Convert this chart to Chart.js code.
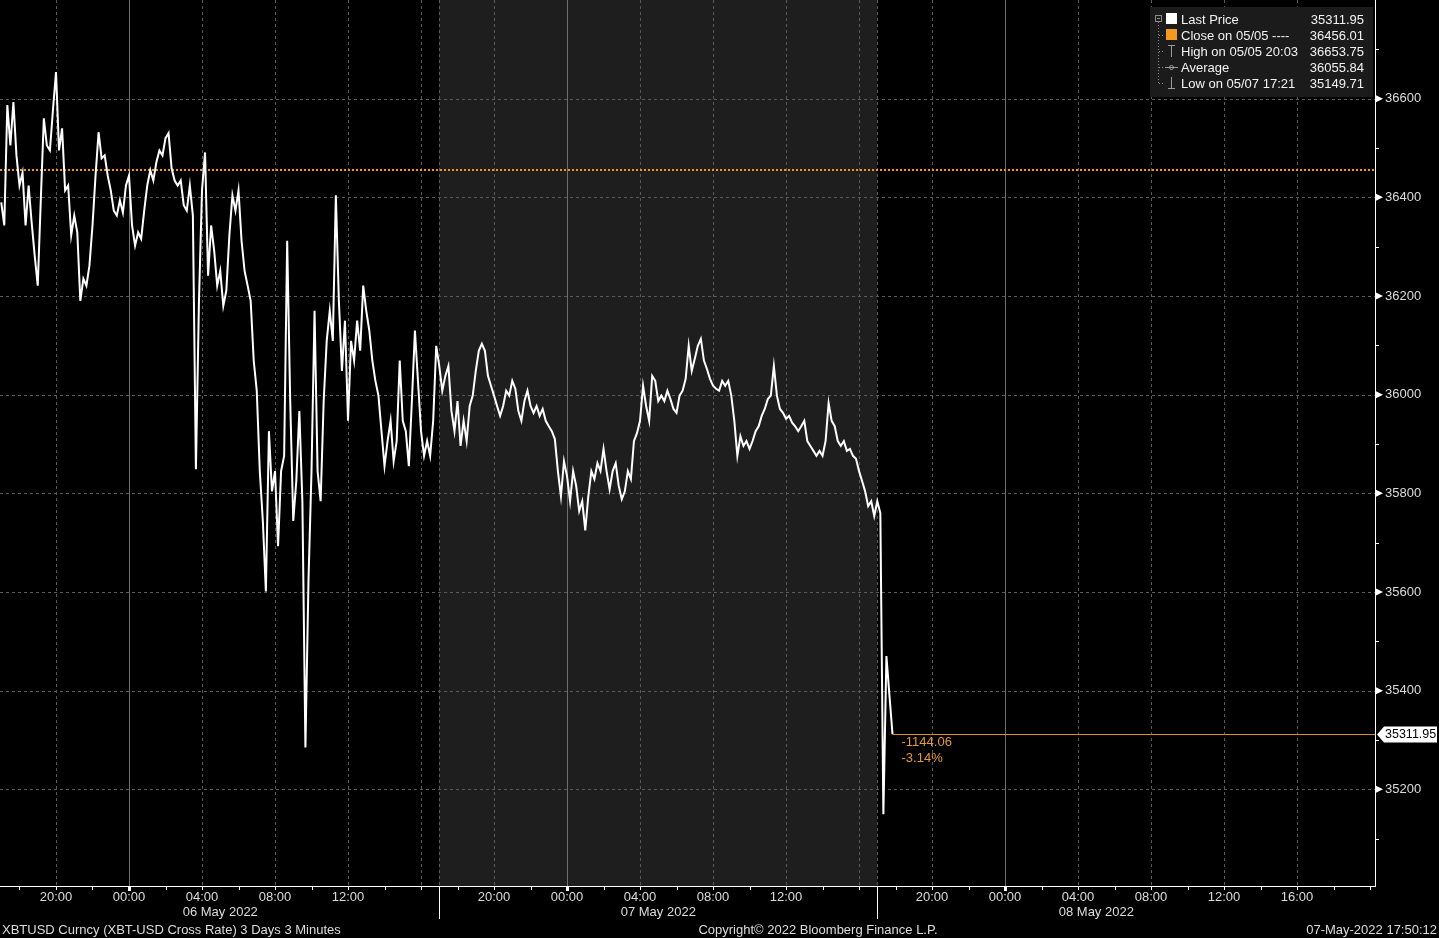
<!DOCTYPE html>
<html>
<head>
<meta charset="utf-8">
<title>XBTUSD 3 Days</title>
<script src="https://cdn.jsdelivr.net/npm/chart.js@4.4.0/dist/chart.umd.min.js"></script>
<style>
  html, body { margin: 0; padding: 0; background: #000; }
  canvas { display: block; }
</style>
</head>
<body>
<canvas id="chart" width="1439" height="938"></canvas>
<script>
// hours are counted from 06 May 2022 00:00, first bar is 05 May 17:00
const startHour = -7;
const stepMinutes = 10;

// XBTUSD, 10 minute samples
const prices = [
  36390, 36343, 36587, 36505, 36593, 36485, 36424, 36450, 36343, 36424, 36349, 36282,
  36221, 36394, 36560, 36505, 36495, 36577, 36653.75, 36495, 36540, 36414, 36424, 36323,
  36363, 36329, 36190, 36235, 36221, 36262, 36343, 36444, 36532, 36479, 36485, 36444,
  36414, 36373, 36363, 36394, 36369, 36424, 36444, 36343, 36302, 36329, 36316, 36373,
  36424, 36455, 36434, 36471, 36495, 36485, 36520, 36530, 36459, 36434, 36424, 36434,
  36384, 36373, 36424, 36363, 35849, 36190, 36414, 36491, 36241, 36343, 36292, 36221,
  36251, 36180, 36211, 36323, 36404, 36373, 36414, 36312, 36251, 36221, 36190, 36069,
  36008, 35845, 35744, 35601, 35926, 35804, 35845, 35693, 35845, 35876, 36312, 35987,
  35744, 35825, 35967, 35784, 35285, 35622, 35845, 36170, 35845, 35784, 35987, 36109,
  36170, 36109, 36404, 36190, 36048, 36150, 35947, 36109, 36069, 36150, 36089, 36221,
  36170, 36130, 36069, 36028, 35998, 35926, 35855, 35906, 35947, 35865, 35906, 36069,
  35947, 35926, 35855, 35987, 36130, 36028, 35926, 35876, 35906, 35876, 35947, 36099,
  36058, 36008, 36038, 36058, 35967, 35926, 35987, 35896, 35947, 35906, 35977, 35998,
  36048, 36089, 36103, 36089, 36038, 36018, 35998, 35977, 35957, 35977, 36008, 35998,
  36028, 36012, 35967, 35947, 35987, 36008, 35977, 35963, 35977, 35957, 35971, 35947,
  35936, 35926, 35910, 35845, 35794, 35865, 35835, 35784, 35845, 35815, 35764, 35784,
  35725, 35794, 35845, 35829, 35861, 35845, 35890, 35845, 35808, 35845, 35861, 35815,
  35788, 35804, 35845, 35829, 35906, 35922, 35947, 36018, 35977, 35947, 36038, 36028,
  35987, 35998, 35987, 36008, 35991, 35971, 35963, 35998, 36008, 36032, 36099, 36048,
  36073, 36099, 36113, 36069, 36052, 36032, 36018, 36012, 36008, 36028, 36018, 36028,
  35998, 35947, 35876, 35916, 35896, 35906, 35890, 35906, 35926, 35936, 35957, 35971,
  35991, 35998, 36058, 35998, 35971, 35963, 35951, 35957, 35943, 35936, 35926, 35936,
  35947, 35906, 35896, 35886, 35876, 35886, 35876, 35906, 35983, 35947, 35936, 35906,
  35896, 35906, 35886, 35890, 35876, 35870, 35845, 35825, 35804, 35774, 35784, 35754,
  35784, 35760, 35149.71, 35470, 35390, 35311.95
];

const closePrev = 36456.01;
const lastPrice = 35311.95;
const netChange = '-1144.06';
const pctChange = '-3.14%';

const yTicks = [35200, 35400, 35600, 35800, 36000, 36200, 36400, 36600];
const yMinor = [35100, 35300, 35500, 35700, 35900, 36100, 36300, 36500, 36700];
const xLabelHours = [-4, 0, 4, 8, 12, 20, 24, 28, 32, 36, 44, 48, 52, 56, 60, 64];
const xGridHours = [-4, 0, 4, 8, 12, 16, 20, 24, 28, 32, 36, 40, 44, 48, 52, 56, 60, 64];
const sessionBreaks = [17, 41];
const dayLabels = ['06 May 2022', '07 May 2022', '08 May 2022'];
const dayCenters = [5, 29, 53];

const legendNames = ['Last Price', 'Close on 05/05 ----', 'High on 05/05 20:03', 'Average', 'Low on 05/07 17:21'];
const legendValues = ['35311.95', '36456.01', '36653.75', '36055.84', '35149.71'];

const FONT = "'Liberation Sans', Arial, sans-serif";
const ORANGE = '#f0962a';

const line = (ctx, x1, y1, x2, y2) => {
  ctx.beginPath();
  ctx.moveTo(x1, y1);
  ctx.lineTo(x2, y2);
  ctx.stroke();
};

const bbg = {
  id: 'bbg',
  beforeDraw(chart) {
    const { ctx, chartArea: a, scales: { x, y } } = chart;
    ctx.save();
    ctx.fillStyle = '#000';
    ctx.fillRect(0, 0, chart.width, chart.height);

    // 07 May session shading
    const s0 = x.getPixelForValue(sessionBreaks[0]);
    const s1 = x.getPixelForValue(sessionBreaks[1]);
    ctx.fillStyle = '#1e1e1e';
    ctx.fillRect(s0, a.top, s1 - s0, a.bottom - a.top);

    ctx.lineWidth = 1;
    ctx.strokeStyle = '#5a5a5a';
    ctx.setLineDash([3, 3]);
    yTicks.forEach(v => {
      const py = Math.round(y.getPixelForValue(v)) + 0.5;
      line(ctx, a.left, py, a.right, py);
    });
    xGridHours.forEach(h => {
      if (h % 24 === 0) return;
      const px = Math.round(x.getPixelForValue(h)) + 0.5;
      line(ctx, px, a.top, px, a.bottom);
    });
    sessionBreaks.forEach(h => {
      const px = Math.round(x.getPixelForValue(h)) + 0.5;
      line(ctx, px, a.top, px, a.bottom);
    });
    ctx.setLineDash([]);
    ctx.strokeStyle = '#6e6e6e';
    xGridHours.forEach(h => {
      if (h % 24 !== 0) return;
      const px = Math.round(x.getPixelForValue(h)) + 0.5;
      line(ctx, px, a.top, px, a.bottom);
    });

    // previous close
    ctx.strokeStyle = ORANGE;
    ctx.lineWidth = 2;
    ctx.setLineDash([2, 2]);
    const cy = Math.round(y.getPixelForValue(closePrev));
    line(ctx, a.left, cy, a.right, cy);
    ctx.restore();
  },
  afterDatasetsDraw(chart) {
    const { ctx, chartArea: a, scales: { x, y } } = chart;
    ctx.save();

    // last price line
    const lastX = x.getPixelForValue(startHour + (prices.length - 1) * stepMinutes / 60);
    const ly = Math.round(y.getPixelForValue(lastPrice)) + 0.5;
    ctx.strokeStyle = '#e08a2c';
    ctx.lineWidth = 1;
    line(ctx, lastX, ly, a.right, ly);
    ctx.fillStyle = '#e39a3a';
    ctx.font = '13px ' + FONT;
    ctx.textBaseline = 'middle';
    ctx.textAlign = 'left';
    ctx.fillText(netChange, lastX + 9, ly + 8);
    ctx.fillText(pctChange, lastX + 9, ly + 24);

    // axis frame
    ctx.strokeStyle = '#ffffff';
    line(ctx, a.right + 0.5, a.top, a.right + 0.5, a.bottom + 1);
    line(ctx, a.left, a.bottom + 0.5, a.right + 1, a.bottom + 0.5);

    // y markers
    ctx.fillStyle = '#ffffff';
    yTicks.forEach(v => {
      const py = y.getPixelForValue(v);
      ctx.beginPath();
      ctx.moveTo(a.right + 1, py - 3.5);
      ctx.lineTo(a.right + 8, py);
      ctx.lineTo(a.right + 1, py + 3.5);
      ctx.closePath();
      ctx.fill();
    });
    yMinor.forEach(v => {
      const py = Math.round(y.getPixelForValue(v)) + 0.5;
      line(ctx, a.right + 1, py, a.right + 4, py);
    });

    // last price tag
    const tx = a.right + 2;
    ctx.beginPath();
    ctx.moveTo(tx, ly);
    ctx.lineTo(tx + 7, ly - 8);
    ctx.lineTo(chart.width - 2, ly - 8);
    ctx.lineTo(chart.width - 2, ly + 8);
    ctx.lineTo(tx + 7, ly + 8);
    ctx.closePath();
    ctx.fill();
    ctx.fillStyle = '#000';
    ctx.font = '12.5px ' + FONT;
    ctx.fillText(lastPrice.toFixed(2), tx + 8, ly + 0.5);

    // x ticks every 2 hours
    for (let h = -6; h <= 68; h += 2) {
      const px = Math.round(x.getPixelForValue(h)) + 0.5;
      if (h % 24 === 0) {
        ctx.lineWidth = 3;
        line(ctx, px, a.bottom, px, a.bottom + 5);
        ctx.lineWidth = 1;
      } else {
        line(ctx, px, a.bottom, px, a.bottom + 4);
      }
    }
    sessionBreaks.forEach(h => {
      const px = Math.round(x.getPixelForValue(h)) + 0.5;
      line(ctx, px, a.bottom, px, a.bottom + 33);
    });

    // day labels and footer
    ctx.fillStyle = '#dcdcdc';
    ctx.font = '13px ' + FONT;
    ctx.textAlign = 'center';
    dayLabels.forEach((t, i) => ctx.fillText(t, x.getPixelForValue(dayCenters[i]), a.bottom + 26));
    ctx.fillText('Copyright\u00a9 2022 Bloomberg Finance L.P.', 818, chart.height - 8);
    ctx.textAlign = 'left';
    ctx.fillText('XBTUSD Curncy (XBT-USD Cross Rate) 3 Days 3 Minutes', 2, chart.height - 8);
    ctx.textAlign = 'right';
    ctx.fillText('07-May-2022 17:50:12', chart.width - 2, chart.height - 8);

    // legend
    ctx.fillStyle = '#1b1b1b';
    ctx.fillRect(1150, 7, 223, 90);
    const rows = [19, 35, 51, 67, 83];
    ctx.strokeStyle = '#8a8a8a';
    ctx.strokeRect(1155.5, 15.5, 6, 6);
    line(ctx, 1157, 18.5, 1160, 18.5);
    ctx.setLineDash([1, 2]);
    line(ctx, 1158.5, 22, 1158.5, rows[4]);
    rows.slice(1).forEach(r => line(ctx, 1159, r + 0.5, 1164, r + 0.5));
    ctx.setLineDash([]);
    ctx.fillStyle = '#ffffff';
    ctx.fillRect(1166, 13, 11, 11);
    ctx.fillStyle = '#f39a1e';
    ctx.fillRect(1166, 29, 11, 11);
    ctx.strokeStyle = '#9a9a9a';
    line(ctx, 1171.5, rows[2] - 6, 1171.5, rows[2] + 6);
    line(ctx, 1168, rows[2] - 5.5, 1175, rows[2] - 5.5);
    line(ctx, 1165, rows[3] + 0.5, 1178, rows[3] + 0.5);
    ctx.beginPath();
    ctx.arc(1171.5, rows[3] + 0.5, 2, 0, Math.PI * 2);
    ctx.stroke();
    line(ctx, 1171.5, rows[4] - 6, 1171.5, rows[4] + 6);
    line(ctx, 1168, rows[4] + 5.5, 1175, rows[4] + 5.5);
    ctx.fillStyle = '#f2f2f2';
    ctx.font = '13px ' + FONT;
    rows.forEach((r, i) => {
      ctx.textAlign = 'left';
      ctx.fillText(legendNames[i], 1181, r + 1);
      ctx.textAlign = 'right';
      ctx.fillText(legendValues[i], 1364, r + 1);
    });
    ctx.restore();
  }
};

const noPad = s => {
  s.paddingTop = 0;
  s.paddingBottom = 0;
  s.paddingLeft = 0;
  s.paddingRight = 0;
};

const ctx = document.getElementById('chart').getContext('2d');
const chart = new Chart(ctx, {
  type: 'line',
  data: {
    datasets: [{
      label: 'Last Price',
      data: prices.map((p, i) => ({ x: startHour + i * stepMinutes / 60, y: p })),
      borderColor: '#ffffff',
      borderWidth: 2,
      pointRadius: 0,
      tension: 0,
      fill: false
    }]
  },
  options: {
    responsive: false,
    animation: false,
    layout: { padding: 0 },
    plugins: {
      legend: { display: false },
      tooltip: { enabled: false }
    },
    scales: {
      x: {
        type: 'linear',
        min: -7.068,
        max: 68.27,
        grid: { display: false, drawTicks: false },
        border: { display: false },
        afterFit: s => { s.height = 52; noPad(s); },
        afterBuildTicks: s => { s.ticks = xLabelHours.map(v => ({ value: v })); },
        ticks: {
          autoSkip: false,
          maxRotation: 0,
          padding: 4,
          color: '#dcdcdc',
          font: { family: FONT, size: 13 },
          callback: v => {
            const hh = ((v % 24) + 24) % 24;
            return String(hh).padStart(2, '0') + ':00';
          }
        }
      },
      y: {
        position: 'right',
        min: 35004,
        max: 36800,
        grid: { display: false, drawTicks: false },
        border: { display: false },
        afterFit: s => { s.width = 64; noPad(s); },
        afterBuildTicks: s => { s.ticks = yTicks.map(v => ({ value: v })); },
        ticks: {
          padding: 10,
          color: '#dcdcdc',
          font: { family: FONT, size: 13 },
          callback: v => String(v)
        }
      }
    }
  },
  plugins: [bbg]
});
</script>
</body>
</html>
